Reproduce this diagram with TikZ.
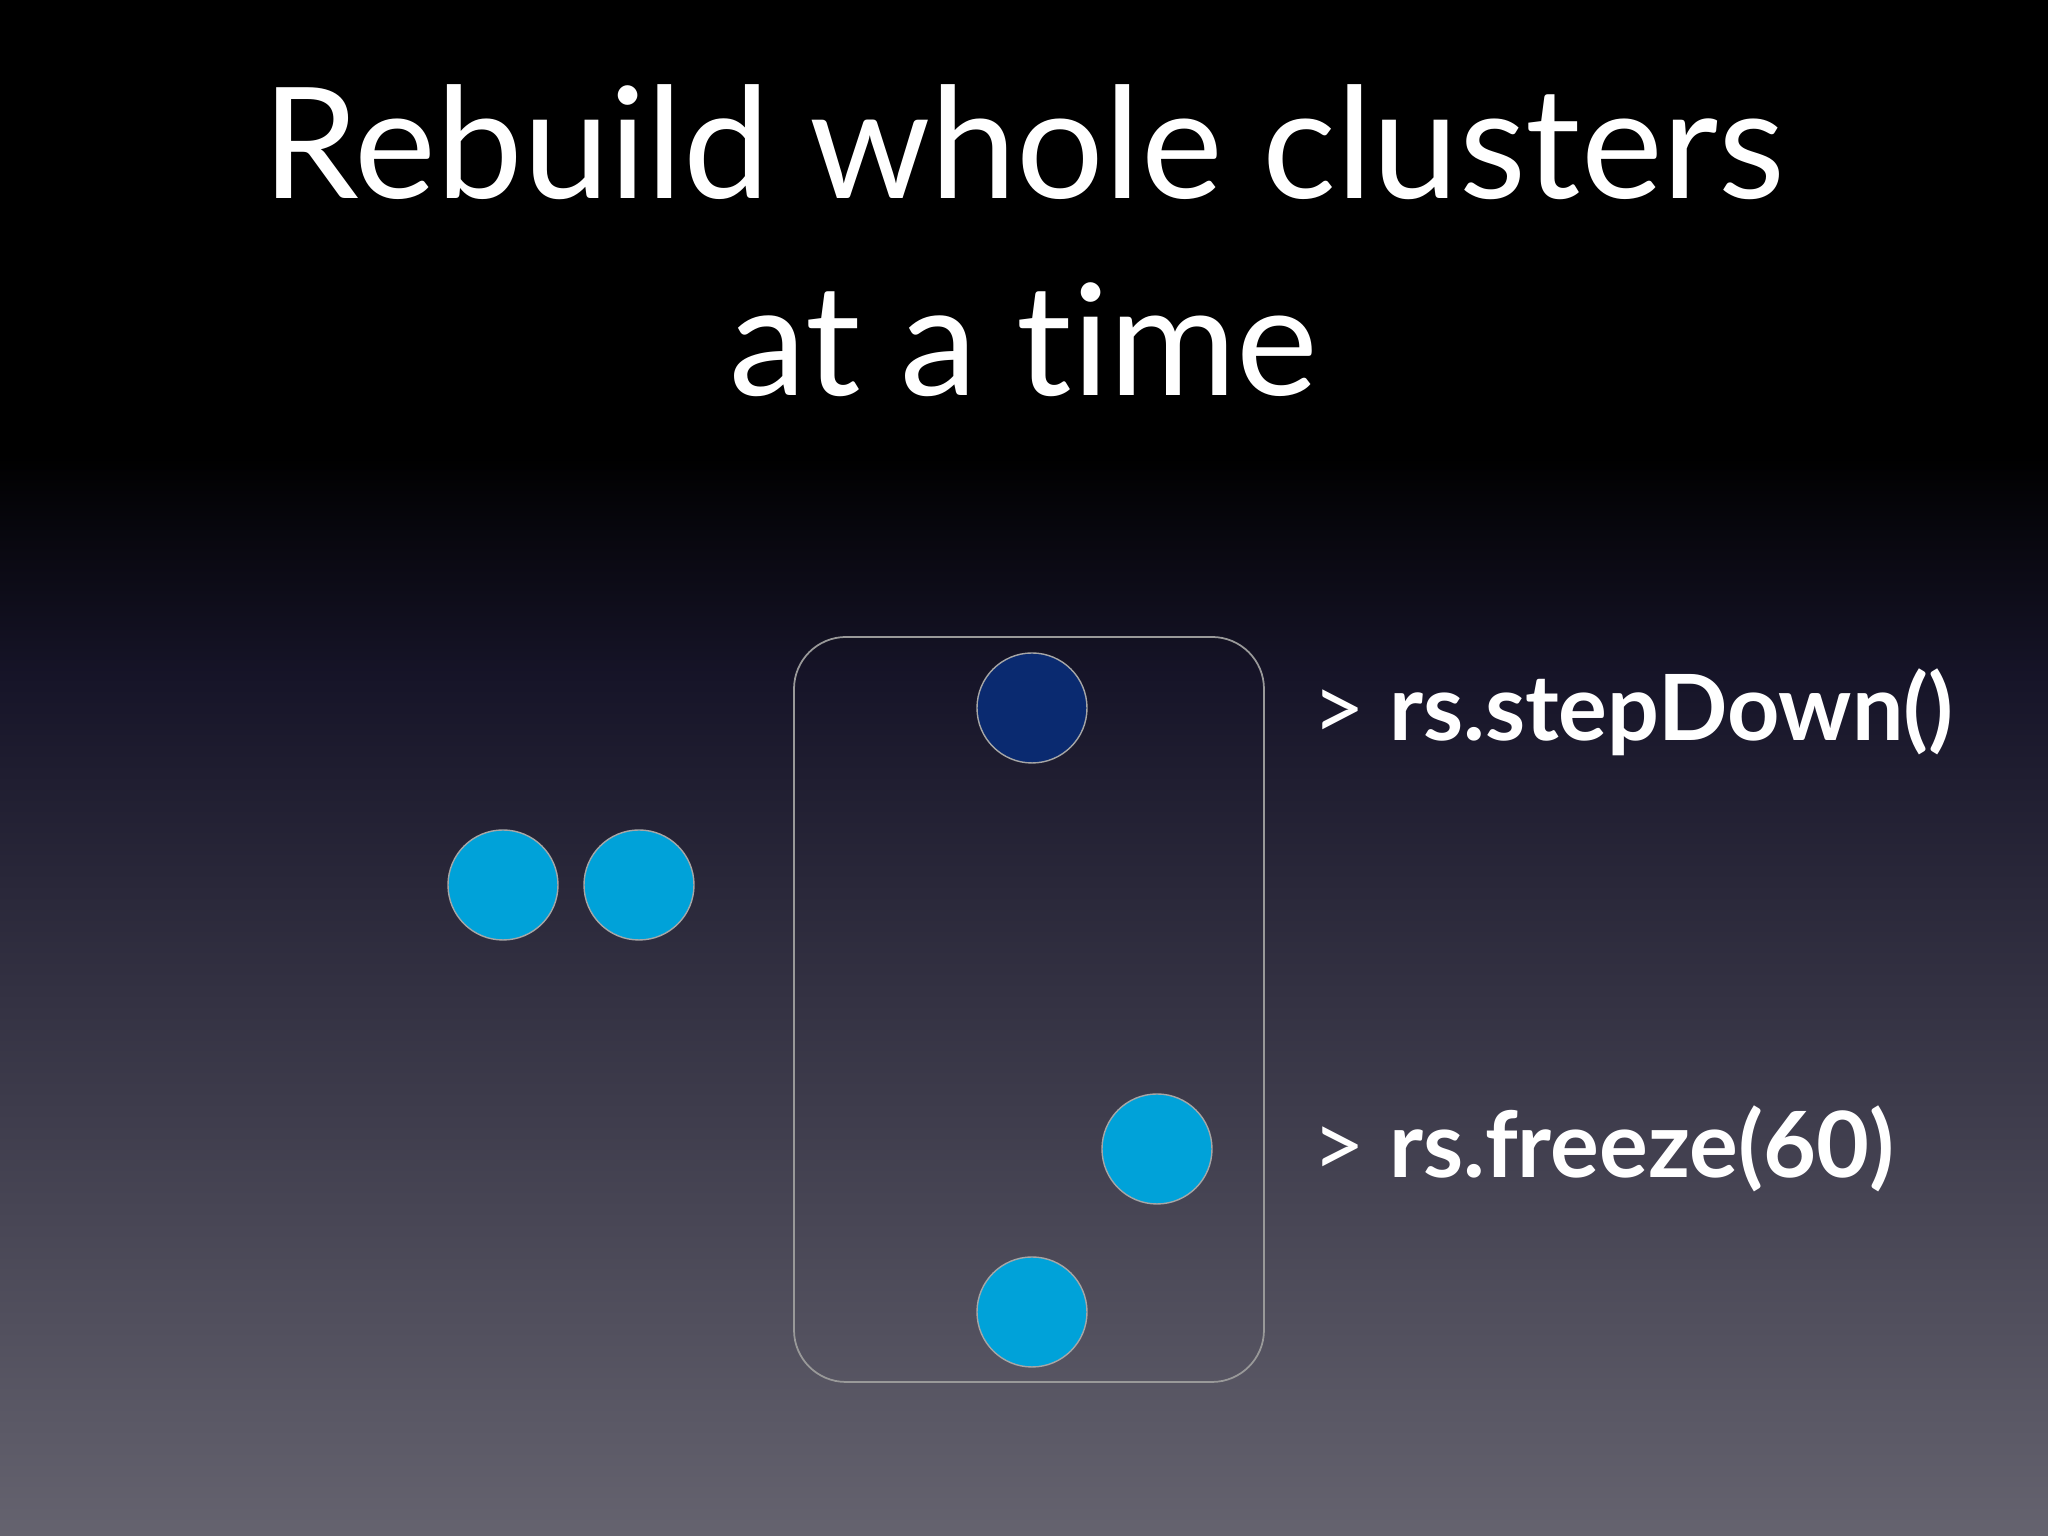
\documentclass[tikz,border=0pt]{standalone}
\usepackage{fontspec}
\setmainfont[Ligatures=CommonOff]{Lato}
\definecolor{bgbot}{HTML}{65636F}
\definecolor{bgmid}{HTML}{161428}
\definecolor{dark}{HTML}{0A2A70}
\definecolor{light}{HTML}{00A2D9}
\tikzset{dot/.style={circle,minimum size=1.1cm,inner sep=0pt,draw=gray!70,line width=0.4pt},
cmd/.style={anchor=west,text=white,font=\fontsize{26}{30}\selectfont,inner sep=0pt}}
\begin{document}
\begin{tikzpicture}[x=1cm,y=1cm]
\useasboundingbox (0,0) rectangle (20.48,15.36);
\fill[black] (0,10.8) rectangle (20.48,15.36);
\shade[top color=black,bottom color=bgmid] (0,8.6) rectangle (20.48,10.81);
\shade[top color=bgmid,bottom color=bgbot] (0,0) rectangle (20.48,8.61);
\node[text=white,font=\fontsize{44}{56}\selectfont,align=center] (title) at (10.24,12.95) {Rebuild whole clusters\\at a time};
\draw[gray!80,line width=0.5pt,rounded corners=0.52cm] (7.94,1.54) rectangle (12.64,8.99) node[coordinate] (box) {};
\node[dot,fill=dark] (p) at (10.32,8.28) {};
\node[dot,fill=light] (a) at (5.03,6.51) {};
\node[dot,fill=light] (b) at (6.39,6.51) {};
\node[dot,fill=light] (c) at (11.57,3.87) {};
\node[dot,fill=light] (d) at (10.32,2.24) {};
\node[cmd] (t1) at (13.12,8.24) {> \textbf{rs.stepDown()}};
\node[cmd] (t2) at (13.12,3.87) {> \textbf{rs.freeze(60)}};
\end{tikzpicture}
\end{document}
